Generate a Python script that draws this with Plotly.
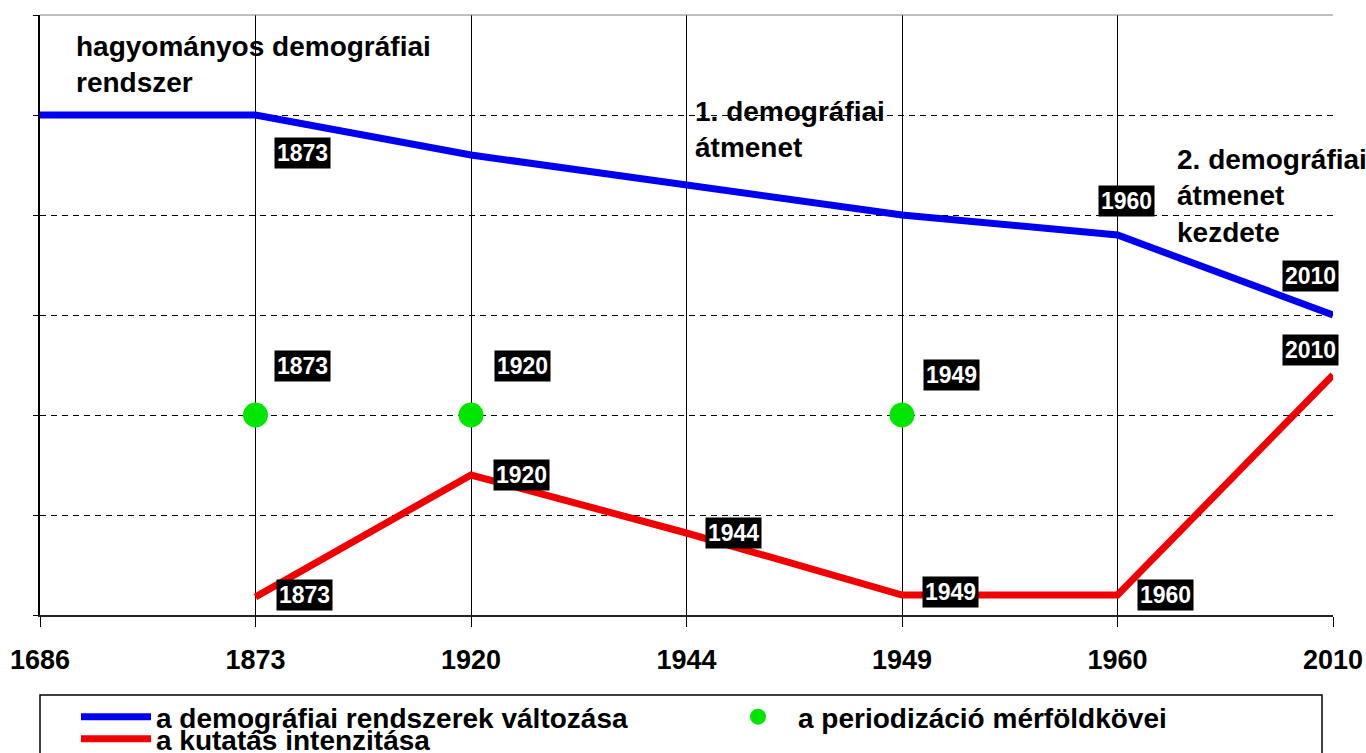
import plotly.graph_objects as go

# ---- data ----
categories = ["1686", "1873", "1920", "1944", "1949", "1960", "2010"]
blue_values = [5.0, 5.0, 4.6, 4.3, 4.0, 3.8, 3.0]
green_values = [None, 2.0, 2.0, None, 2.0, None, None]
red_values = [None, 0.18, 1.4, 0.82, 0.2, 0.2, 2.4]

blue_name = "a demográfiai rendszerek változása"
red_name = "a kutatás intenzitása"
green_name = "a periodizáció mérföldkövei"

# which points get a black year label
blue_labelled = ["1873", "1960", "2010"]
green_labelled = ["1873", "1920", "1949"]
red_labelled = ["1873", "1920", "1944", "1949", "1960", "2010"]

text_blocks = [
    ("hagyományos demográfiai<br>rendszer", 0.16, 5.86),
    ("1. demográfiai<br>átmenet", 3.03, 5.21),
    ("2. demográfiai<br>átmenet<br>kezdete", 5.265, 4.73),
]

# ---- styles ----
FONT = "Liberation Sans, Arial, sans-serif"
BLUE = "#0000F0"
RED = "#F00000"
GREEN = "#00E600"

W, H = 1366, 753


def cx(px):  # screen pixel -> container x fraction
    return px / W


def cy(py):  # screen pixel -> container y fraction
    return 1 - py / H


blue_offsets = {"1873": (47, -38), "1960": (9, 34), "2010": (-23, 39)}
green_offsets = {"1873": (47, 49), "1920": (51, 49), "1949": (49, 40)}
red_offsets = {"1873": (49, 2), "1920": (50, 0), "1944": (47, 0),
               "1949": (48, 3), "1960": (48, 0), "2010": (-23, 25)}

fig = go.Figure()
fig.add_trace(go.Scatter(x=categories, y=blue_values, mode="lines", name=blue_name,
                         line=dict(color=BLUE, width=7), legend="legend"))
fig.add_trace(go.Scatter(x=categories, y=green_values, mode="markers", name=green_name,
                         marker=dict(color=GREEN, size=25, symbol="circle"),
                         cliponaxis=False, legend="legend3"))
fig.add_trace(go.Scatter(x=categories, y=red_values, mode="lines", name=red_name,
                         line=dict(color=RED, width=7), legend="legend2"))


def add_labels(values, labelled, offsets):
    for cat, val in zip(categories, values):
        if cat in labelled and val is not None:
            dx, dy = offsets[cat]
            fig.add_annotation(x=categories.index(cat), y=val, xref="x", yref="y",
                               text=cat, showarrow=False, xshift=dx, yshift=dy,
                               xanchor="center", yanchor="middle",
                               bgcolor="black", borderpad=2,
                               font=dict(family=FONT, size=23, color="white", weight="bold"))


add_labels(blue_values, blue_labelled, blue_offsets)
add_labels(green_values, green_labelled, green_offsets)
add_labels(red_values, red_labelled, red_offsets)

for txt, xx, yy in text_blocks:
    fig.add_annotation(x=xx, y=yy, xref="x", yref="y", text=txt, showarrow=False,
                       xanchor="left", yanchor="top", align="left",
                       font=dict(family=FONT, size=28, color="black", weight="bold"))

# top border and legend frame
fig.add_shape(type="line", xref="paper", yref="paper", x0=0, x1=1, y0=1, y1=1,
              line=dict(color="#808080", width=1))
fig.add_shape(type="rect", xref="paper", yref="paper", x0=0, x1=(1322 - 40) / 1293,
              y0=(615 - 695) / 600, y1=-0.4, line=dict(color="black", width=1.5))

legend_font = dict(family=FONT, size=28, color="black", weight="bold")
common = dict(orientation="h", xref="container", yref="container",
              xanchor="left", yanchor="top", bgcolor="rgba(0,0,0,0)",
              itemwidth=70, font=legend_font)

fig.update_layout(
    width=W, height=H,
    margin=dict(l=40, r=33, t=15, b=138, autoexpand=False),
    paper_bgcolor="white", plot_bgcolor="white",
    font=dict(family=FONT, color="black"),
    showlegend=True,
    legend=dict(x=cx(76), y=cy(692), **common),
    legend2=dict(x=cx(76), y=cy(714), **common),
    legend3=dict(x=cx(718), y=cy(692), **common),
)

fig.update_xaxes(type="category", categoryorder="array", categoryarray=categories,
                 range=[0, 6], showgrid=True, gridcolor="black", gridwidth=1,
                 showline=True, linecolor="#222222", linewidth=2,
                 ticks="outside", ticklen=10, tickcolor="black", tickwidth=1,
                 ticklabelstandoff=10, automargin=False,
                 tickfont=dict(family=FONT, size=27, color="black", weight="bold"),
                 zeroline=False)
fig.update_yaxes(range=[0, 6], tickvals=[0, 1, 2, 3, 4, 5, 6], showticklabels=False,
                 showgrid=True, gridcolor="black", gridwidth=1, griddash="6px,5px",
                 showline=True, linecolor="black", linewidth=2, automargin=False,
                 ticks="outside", ticklen=5, tickcolor="black", zeroline=False)

fig.write_html("out.html", config={"displayModeBar": False},
               post_script="document.body.style.margin='0';document.body.style.overflow='hidden';")
